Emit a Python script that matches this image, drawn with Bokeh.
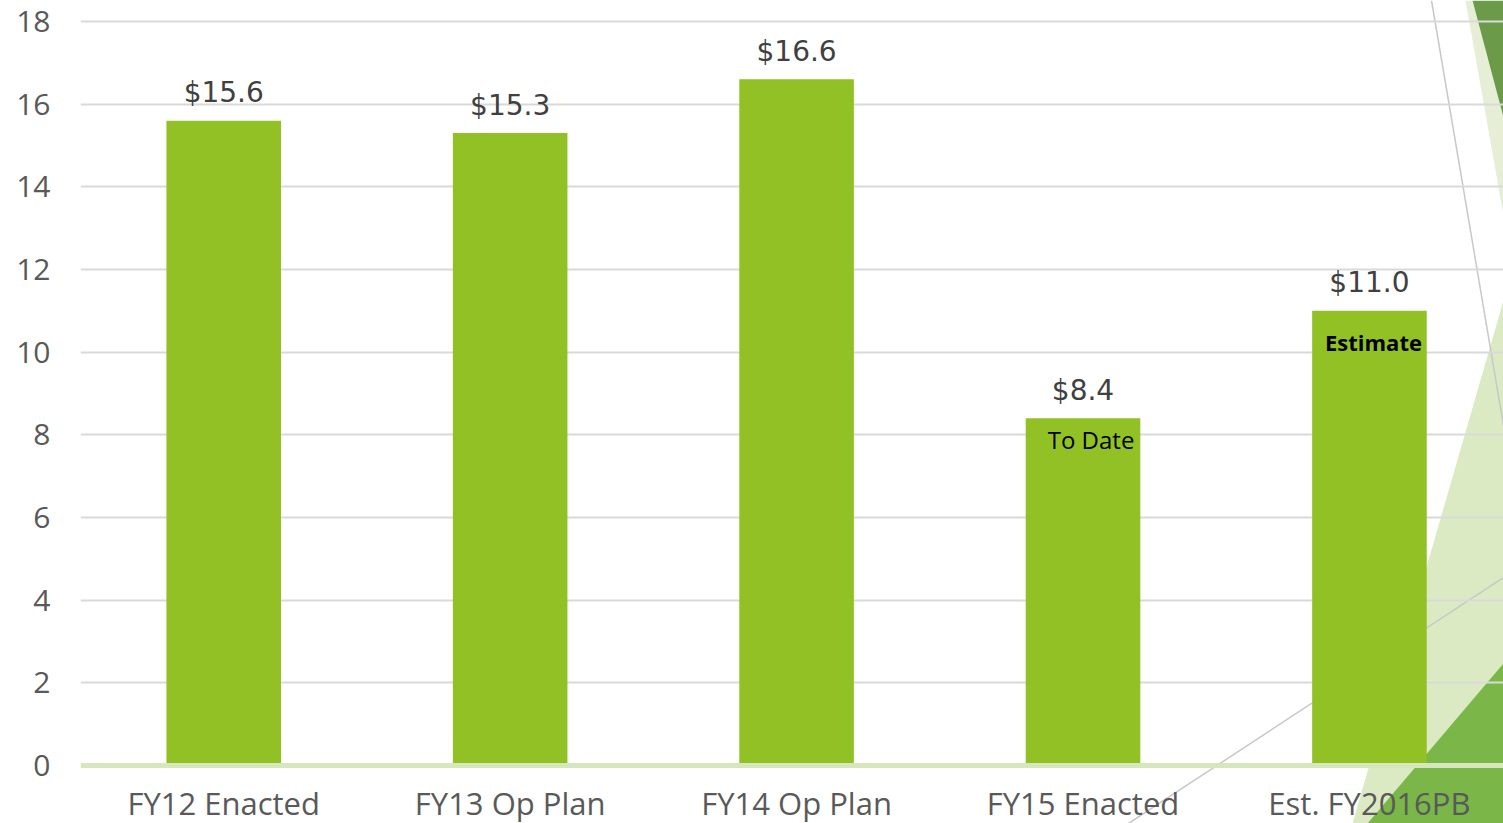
from bokeh.plotting import figure
from bokeh.models import Range1d, LinearAxis, FixedTicker, ColumnDataSource
from bokeh.core.properties import value
from bokeh.embed import file_html
from bokeh.resources import INLINE

# ---- data ----
categories = ["FY12 Enacted", "FY13 Op Plan", "FY14 Op Plan", "FY15 Enacted", "Est. FY2016PB"]
amounts = [15.6, 15.3, 16.6, 8.4, 11.0]
notes = ["", "", "", "To Date", "Estimate"]
y_ticks = [0, 2, 4, 6, 8, 10, 12, 14, 16, 18]

W, H = 1503, 823
LEFT = 80
X0, X1 = -0.5, 4.468
Y0, Y1 = -1.403, 18.508

FONT = "Open Sans"

p = figure(width=W, height=H, output_backend="svg", toolbar_location=None,
           x_range=Range1d(X0, X1), y_range=Range1d(Y0, Y1),
           x_axis_location=None, y_axis_location=None,
           min_border_left=LEFT, min_border_right=0, min_border_top=0, min_border_bottom=0)
p.outline_line_color = None
p.background_fill_color = "white"
p.border_fill_color = "white"

# ---- decorative theme shapes (pixel -> data) ----
def dx(px):
    return X0 + (px - LEFT) * (X1 - X0) / (W - LEFT)

def dy(py):
    return Y1 - py * (Y1 - Y0) / H

deco = [
    ([1503, 1503, 1352], [300, 823, 823], "#dceac4"),
    ([1503, 1503, 1367], [663, 823, 823], "#7ab648"),
    ([1465, 1472, 1503, 1503], [0, 0, 117, 215], "#e6efd6"),
    ([1472, 1503, 1503], [0, 0, 117], "#6b9b49"),
]
for xs, ys, c in deco:
    p.patch([dx(v) for v in xs], [dy(v) for v in ys], fill_color=c, line_color=None, level="image")
for xs, ys in [([1431, 1503], [0, 425]), ([1128, 1503], [823, 577])]:
    p.line([dx(v) for v in xs], [dy(v) for v in ys], line_color="#c8c8c8", line_width=1.5, level="image")

# ---- bars ----
xpos = list(range(len(categories)))
src = ColumnDataSource(dict(x=xpos, top=amounts,
                            lab=[f"${v:.1f}" for v in amounts], note=notes))
p.vbar(x="x", top="top", bottom=0, width=0.4, source=src, fill_color="#92c125", line_color=None)

# value labels
p.text(x="x", y="top", text="lab", source=src, text_align="center", text_baseline="alphabetic",
       y_offset=-28, text_font=value("DejaVu Sans"), text_font_size="28px", text_color="#404040")

# inner notes
p.text(x=[xpos[3]], y=[amounts[3]], text=[notes[3]], text_align="center", text_baseline="alphabetic",
       x_offset=8, y_offset=21, text_font=value(FONT), text_font_size="24px", text_color="black")
p.text(x=[xpos[4]], y=[amounts[4]], text=[notes[4]], text_align="center", text_baseline="alphabetic",
       x_offset=4, y_offset=31, text_font=value(FONT), text_font_size="22px",
       text_font_style="bold", text_color="black")

# ---- axes ----
yaxis = LinearAxis(ticker=FixedTicker(ticks=y_ticks))
yaxis.axis_line_color = None
yaxis.major_tick_line_color = None
yaxis.minor_tick_line_color = None
yaxis.major_label_standoff = 24
yaxis.major_label_text_font = FONT
yaxis.major_label_text_font_size = "30px"
yaxis.major_label_text_color = "#595959"
p.add_layout(yaxis, "left")

xaxis = LinearAxis(ticker=FixedTicker(ticks=xpos), fixed_location=0,
                   major_label_overrides={i: c for i, c in enumerate(categories)})
xaxis.axis_line_color = "#d6e7bd"
xaxis.axis_line_width = 5
xaxis.major_tick_line_color = None
xaxis.minor_tick_line_color = None
xaxis.major_label_standoff = 10
xaxis.major_label_text_font = FONT
xaxis.major_label_text_font_size = "31px"
xaxis.major_label_text_color = "#595959"
p.add_layout(xaxis, "below")

p.ygrid.ticker = FixedTicker(ticks=y_ticks[1:])
p.ygrid.grid_line_color = "#d9d9d9"
p.ygrid.grid_line_width = 2
p.xgrid.grid_line_color = None

open("out.html", "w").write(file_html(p, INLINE))
